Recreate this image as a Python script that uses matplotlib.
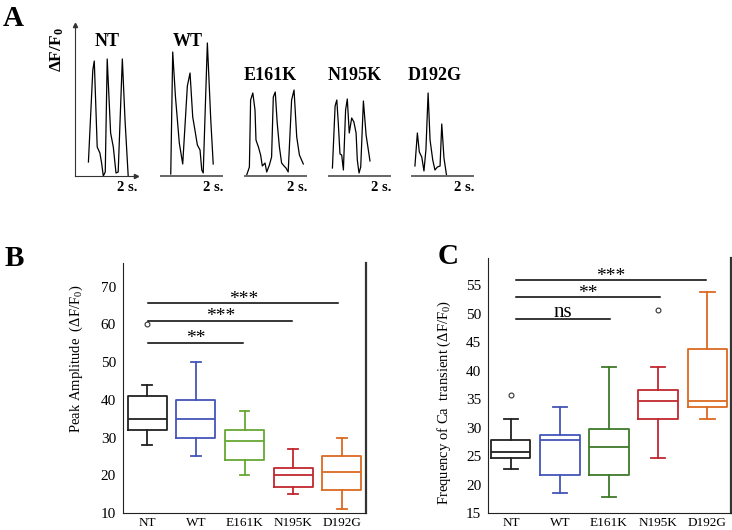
import matplotlib
matplotlib.use("Agg")
import matplotlib.pyplot as plt

plt.rcParams['font.family'] = ['Liberation Serif', 'DejaVu Serif']
plt.rcParams['mathtext.fontset'] = 'custom'
plt.rcParams['mathtext.rm'] = 'Liberation Serif'
plt.rcParams['mathtext.it'] = 'Liberation Serif:italic'
plt.rcParams['mathtext.bf'] = 'Liberation Serif:bold'

groups = ['NT', 'WT', 'E161K', 'N195K', 'D192G']

# Panel A: example Ca transients, time (s) and dF/F0 (a.u.)
nt_t = [0.55, 0.73, 0.79, 0.91, 1.02, 1.09, 1.16, 1.24, 1.32, 1.46, 1.57, 1.68, 1.77, 1.94, 2.05, 2.18]
nt_f = [0.14, 1.06, 1.15, 0.29, 0.23, 0.13, 0.00, 0.04, 1.17, 0.43, 0.29, 0.03, 0.04, 1.17, 0.56, 0.00]
wt_t = [0.40, 0.48, 0.59, 0.75, 0.89, 1.08, 1.19, 1.30, 1.39, 1.49, 1.60, 1.67, 1.73, 1.90, 2.04, 2.14]
wt_f = [0.02, 1.24, 0.80, 0.33, 0.12, 0.90, 1.03, 0.59, 0.46, 0.31, 0.26, 0.06, 0.03, 1.33, 0.56, 0.12]
e161k_t = [0.07, 0.18, 0.23, 0.32, 0.41, 0.45, 0.55, 0.64, 0.71, 0.82, 0.89, 1.00, 1.09, 1.16, 1.24,
           1.32, 1.41, 1.50, 1.60, 1.68, 1.77, 1.91, 2.01, 2.12, 2.23, 2.39]
e161k_f = [0.01, 0.09, 0.76, 0.83, 0.66, 0.36, 0.29, 0.21, 0.10, 0.13, 0.04, 0.11, 0.19, 0.79, 0.84,
           0.53, 0.29, 0.13, 0.10, 0.08, 0.04, 0.76, 0.86, 0.39, 0.21, 0.12]
n195k_t = [0.14, 0.25, 0.32, 0.38, 0.45, 0.52, 0.59, 0.68, 0.75, 0.83, 0.93, 1.02, 1.11, 1.16, 1.23,
           1.30, 1.41, 1.52, 1.68]
n195k_f = [0.08, 0.70, 0.76, 0.53, 0.22, 0.21, 0.06, 0.66, 0.77, 0.43, 0.58, 0.54, 0.43, 0.16, 0.03,
           0.09, 0.75, 0.41, 0.15]
d192g_t = [0.12, 0.22, 0.30, 0.40, 0.49, 0.57, 0.66, 0.74, 0.85, 0.94, 1.04, 1.15, 1.22, 1.31, 1.42]
d192g_f = [0.10, 0.43, 0.24, 0.19, 0.05, 0.26, 0.83, 0.36, 0.16, 0.06, 0.09, 0.10, 0.52, 0.18, 0.00]
traces = [(nt_t, nt_f), (wt_t, wt_f), (e161k_t, e161k_f), (n195k_t, n195k_f), (d192g_t, d192g_f)]

# Panel B: peak amplitude (dF/F0)
amp_whislo = [28, 25, 20, 15, 11]
amp_q1 = [32, 30, 24, 17, 16]
amp_med = [35, 35, 29, 20, 21]
amp_q3 = [41, 40, 32, 22, 25]
amp_whishi = [44, 50, 37, 27, 30]
amp_fliers = [[60], [], [], [], []]
amp_sig = [(1.02, 2.96, 55.2, '**'), (1.02, 3.98, 61.0, '***'), (1.02, 4.93, 65.6, '***')]

# Panel C: frequency of Ca transient
frq_whislo = [22.8, 18.6, 17.8, 24.7, 31.6]
frq_q1 = [24.7, 21.7, 21.7, 31.6, 33.6]
frq_med = [25.8, 27.8, 26.6, 34.6, 34.6]
frq_q3 = [27.8, 28.7, 29.7, 36.6, 43.8]
frq_whishi = [31.6, 33.7, 40.7, 40.7, 53.8]
frq_fliers = [[35.7], [], [], [50.6], []]
frq_sig = [(1.1, 3.03, 49.1, 'ns'), (1.1, 4.03, 52.9, '**'), (1.1, 4.97, 56.0, '***')]

colors_b = ['#222222', '#4455b8', '#66a832', '#c0282e', '#dc6a22']
colors_c = ['#222222', '#4455b8', '#3f7a2a', '#c0282e', '#dc6a22']

W, H = 732, 530
fig = plt.figure(figsize=(W / 100, H / 100), dpi=100)


def px(x, y):
    return x / W, 1 - y / H


# ---- Panel A ----
trace_left = [75, 161, 245, 329, 412]
title_pos = [(107, 42), (188, 42), (270, 76), (355, 76), (435, 76)]
for i, (t, f) in enumerate(traces):
    ax = fig.add_axes([trace_left[i] / W, 1 - 176 / H, 61 / W, 151 / H])
    ax.plot(t, f, color='black', lw=0.9)
    ax.set_xlim(0, 2.5)
    ax.set_ylim(0, 1.51)
    ax.set_xticks([])
    ax.set_yticks([])
    for s in ['top', 'right']:
        ax.spines[s].set_visible(False)
    if i == 0:
        ax.spines['left'].set_color('#333333')
        ax.spines['bottom'].set_color('#333333')
        ax.spines['left'].set_linewidth(0.8)
        ax.spines['bottom'].set_linewidth(0.8)
        ax.plot(1, 0, '>', color='#333333', ms=3, transform=ax.transAxes, clip_on=False)
        ax.plot(0, 1, '^', color='#333333', ms=3, transform=ax.transAxes, clip_on=False)
    else:
        ax.spines['left'].set_visible(False)
        ax.spines['bottom'].set_color('#666666')
        ax.spines['bottom'].set_linewidth(1.4)
    ax.patch.set_alpha(0)
    ax.text(1.03, -0.03, '2 s.', transform=ax.transAxes, ha='right', va='top',
            fontsize=10.5, fontweight='bold')
    fig.text(*px(*title_pos[i]), groups[i], ha='center', va='center',
             fontsize=13, fontweight='bold')

fig.text(*px(57, 50), r'$\mathbf{\Delta}$F/F$_\mathbf{0}$', rotation=90,
         ha='center', va='center', fontsize=12.5, fontweight='bold')

fig.text(*px(13, 19), 'A', ha='center', va='center', fontsize=21, fontweight='bold')
fig.text(*px(14, 259), 'B', ha='center', va='center', fontsize=21, fontweight='bold')
fig.text(*px(448, 257), 'C', ha='center', va='center', fontsize=21, fontweight='bold')


def box_panel(rect, whislo, q1, med, q3, whishi, fliers, colors, ylim, yticks,
              xlim, capw, sig, ylabel, label_xy):
    ax = fig.add_axes(rect)
    stats = []
    for k in range(len(groups)):
        stats.append(dict(med=med[k], q1=q1[k], q3=q3[k], whislo=whislo[k],
                          whishi=whishi[k], fliers=fliers[k], label=groups[k]))
    bp = ax.bxp(stats, positions=range(1, 6), widths=0.8, capwidths=capw,
                showfliers=True)
    for k, c in enumerate(colors):
        bp['boxes'][k].set(color=c, lw=1.3)
        bp['medians'][k].set(color=c, lw=1.3)
        for a in bp['whiskers'][2 * k:2 * k + 2] + bp['caps'][2 * k:2 * k + 2]:
            a.set(color=c, lw=1.3)
        bp['fliers'][k].set(marker='o', markerfacecolor='none', markeredgecolor='#333333',
                            markersize=3.5, markeredgewidth=0.8)
    for x0, x1, y, txt in sig:
        ax.plot([x0, x1], [y, y], color='black', lw=1.1)
        if txt == 'ns':
            ax.text((x0 + x1) / 2, y + 0.35, txt, ha='center', va='baseline', fontsize=15)
        else:
            ax.text((x0 + x1) / 2, y - 0.2, txt, ha='center', va='baseline', fontsize=14)
    ax.set_xlim(*xlim)
    ax.set_ylim(*ylim)
    ax.set_yticks(yticks)
    ax.tick_params(axis='y', length=0, pad=5, labelsize=11)
    ax.tick_params(axis='x', length=0, pad=3, labelsize=9.5)
    ax.spines['top'].set_visible(False)
    ax.spines['left'].set_color('#222222')
    ax.spines['bottom'].set_color('#222222')
    ax.spines['right'].set_color('#333333')
    ax.spines['right'].set_linewidth(1.6)
    ax.set_ylabel(ylabel, fontsize=10.5)
    ax.yaxis.set_label_coords(*label_xy)
    return ax


box_panel([123 / W, 17 / H, 243 / W, 250 / H], amp_whislo, amp_q1, amp_med, amp_q3,
          amp_whishi, amp_fliers, colors_b, (10, 76.3), range(10, 71, 10), (0.5, 5.5), 0.2,
          amp_sig, r'Peak Amplitude  ($\Delta$F/F$_0$)', (-0.158, 0.616))

box_panel([488.3 / W, 17 / H, 242.4 / W, 255 / H], frq_whislo, frq_q1, frq_med, frq_q3,
          frq_whishi, frq_fliers, colors_c, (15, 59.8), range(15, 56, 5), (0.54, 5.48), 0.3,
          frq_sig, r'Frequency of Ca  transient ($\Delta$F/F$_0$)', (-0.144, 0.433))

fig.savefig('out.png', dpi=100)
